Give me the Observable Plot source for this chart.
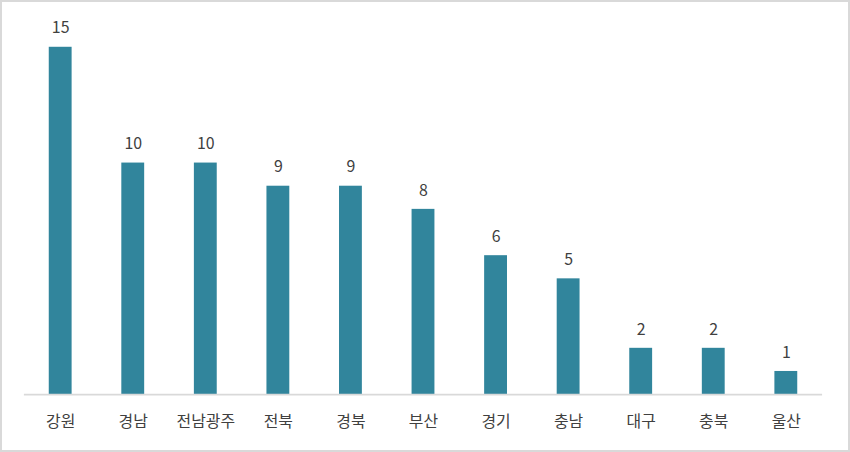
<!DOCTYPE html>
<html>
<head>
<meta charset="utf-8">
<script src="https://cdn.jsdelivr.net/npm/d3@7"></script>
<script src="https://cdn.jsdelivr.net/npm/@observablehq/plot@0.6"></script>
<style>
  html, body { margin: 0; padding: 0; background: #fff; }
  #chart { width: 850px; height: 452px; box-sizing: border-box; border: 2px solid #d9d9d9; position: relative; overflow: hidden; }
  #chart svg { position: absolute; left: -2px; top: -2px; }
</style>
</head>
<body>
<div id="chart"></div>
<script>
const regions = ["강원", "경남", "전남광주", "전북", "경북", "부산", "경기", "충남", "대구", "충북", "울산"];
const counts = [15, 10, 10, 9, 9, 8, 6, 5, 2, 2, 1];

const data = regions.map((r, i) => ({region: r, count: counts[i]}));
const font = "'Noto Sans CJK KR', 'Noto Sans', sans-serif";

const chart = Plot.plot({
  width: 850,
  height: 452,
  marginLeft: 24,
  marginRight: 24,
  marginTop: 47,
  marginBottom: 56,
  style: {fontFamily: font, fontSize: "16px", color: "#404040", background: "transparent"},
  x: {domain: regions, paddingInner: 0.685, paddingOuter: 0.3425, round: false, label: null},
  y: {domain: [0, 15], axis: null},
  marks: [
    Plot.barY(data, {x: "region", y: "count", fill: "#31859C"}),
    Plot.ruleY([0], {stroke: "#d9d9d9", strokeWidth: 2}),
    Plot.text(data, {x: "region", y: "count", text: d => String(d.count), dy: -19, fill: "#404040", fontSize: 16}),
    Plot.axisX({tickSize: 0, tickPadding: 21, fontSize: 16, fill: "#404040", label: null})
  ]
});
document.getElementById("chart").appendChild(chart);
</script>
</body>
</html>
